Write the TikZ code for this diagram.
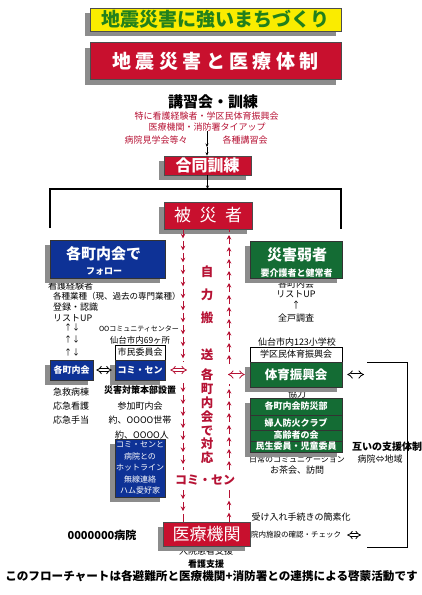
\documentclass[tikz,border=0pt]{standalone}
\usepackage{fontspec}
\setmainfont{Noto Sans CJK JP}
\usetikzlibrary{positioning,arrows.meta,shadows,decorations.markings}
\definecolor{boxred}{RGB}{200,16,46}
\definecolor{boxblue}{RGB}{14,50,150}
\definecolor{boxgreen}{RGB}{20,108,52}
\definecolor{titleyellow}{RGB}{250,236,0}
\definecolor{titlegreen}{RGB}{34,128,28}
\definecolor{textred}{RGB}{182,18,52}
\definecolor{shadowgray}{RGB}{140,140,140}

\begin{document}
\begin{tikzpicture}[x=1pt,y=-1pt,
  every node/.style={inner sep=0pt,font=\fontsize{9}{11}\selectfont},
  boxshadow/.style={drop shadow={shadow xshift=-5pt,shadow yshift=-5pt,fill=shadowgray,opacity=1}},
  redbox/.style={boxshadow,fill=boxred,draw=black!70,line width=0.6pt,text=white},
  bluebox/.style={boxshadow,fill=boxblue,draw=black!80,line width=0.5pt,text=white},
  greenbox/.style={boxshadow,fill=boxgreen,draw=black!80,line width=0.5pt,text=white},
  whitebox/.style={fill=white,draw=black,line width=0.6pt},
  redtxt/.style={text=textred},
  boxtxt/.style={text=white,font=\bfseries\fontsize{9}{11}\selectfont},
  arr/.style={-{Stealth[length=3.5pt,width=3pt]},line width=0.6pt},
  dblarr/.style={double distance=2pt,line width=0.8pt,{Implies}-{Implies}},
  stream/.style={textred,line width=0.8pt,dash pattern=on 8pt off 4pt,
    postaction={decorate,solid},
    decoration={markings,mark=between positions 9pt and 1 step 12pt with {\arrow{Stealth[length=4.5pt,width=4.5pt]}}}},
  frame/.style={line width=1.2pt}]
\useasboundingbox (0,0) rectangle (421,595);

% titles
\node[boxshadow,fill=titleyellow,draw=black!70,line width=0.6pt,minimum width=251pt,minimum height=23pt,
  text=titlegreen,font=\bfseries\fontsize{19}{19}\selectfont] (motto) at (215.5,19.5) {地震災害に強いまちづくり};
\node[redbox,minimum width=251pt,minimum height=37pt,font=\bfseries\fontsize{19}{19}\selectfont] (system) at (215.5,61) {地 震 災 害 と 医 療 体 制};

% lectures and joint training
\node[font=\bfseries\fontsize{15}{15}\selectfont] (lecture) at (213,102) {講習会・訓練};
\node[redtxt] (nurse) at (206.5,116) {特に看護経験者・学区民体育振興会};
\node[redtxt] (tieup) at (207,127) {医療機関・消防署タイアップ};
\node[redtxt] (visit) at (156,140) {病院見学会等々};
\node[redtxt] (course) at (245,140) {各種講習会};
\coordinate (mid) at (207,147);
\node[redbox,minimum width=87pt,minimum height=19pt,font=\bfseries\fontsize{16}{16}\selectfont] (joint) at (207.5,165.5) {合同訓練};
\draw[arr] (tieup) -- (mid);
\draw[arr] (mid) -- (mid |- joint.north);

\coordinate (fr1) at (50,228);
\coordinate (fr2) at (50,189);
\coordinate (fr3) at (341,189);
\coordinate (fr4) at (341,229);
\draw[frame] (fr1) -- (fr2) -- (fr3) -- (fr4);
\draw[arr] (joint.south) -- (joint.south |- fr2);

\node[redbox,minimum width=88pt,minimum height=27pt,font=\fontsize{17}{17}\selectfont] (hisai) at (208,215.5) {被\enspace 災\enspace 者};

% texts partly under the boxes
\node[anchor=west] (nursexp) at (48,286) {看護経験者};
\node (chonair) at (296,284) {各町内会};
\node (kyoryoku) at (297,394) {協力};
\node (daily) [font=\fontsize{8}{10}\selectfont] at (297,459) {日常のコミュニケーション};
\node[anchor=west] (kyubyo) at (53,392) {急救病棟};
\node[font=\bfseries\fontsize{9}{11}\selectfont] (honbu) at (140,390) {災害対策本部設置};
\node (nyuin) at (206,551) {入院患者支援};

% left branch
\node[bluebox,minimum width=115pt,minimum height=38pt] (follow) at (107.5,259) {};
\node[text=white,font=\bfseries\fontsize{15}{15}\selectfont] (followt) at (103.5,254) {各町内会で};
\node[text=white,font=\bfseries\fontsize{9}{9}\selectfont] (followsub) at (104,272) {フォロー};
\node[anchor=west,font=\fontsize{8.5}{10}\selectfont] (gyoshu) at (53,296) {各種業種（現、過去の専門業種）};
\node[anchor=west] (toroku) at (53,307) {登録・認識};
\node[anchor=west] (listupl) at (53,318) {リストUP};
\node[font=\fontsize{8}{8}\selectfont] (ud1) at (72,327) {↑↓};
\node[font=\fontsize{8}{8}\selectfont] (ud2) at (72,339) {↑↓};
\node[font=\fontsize{8}{8}\selectfont] (ud3) at (72,352) {↑↓};
\node[bluebox,minimum width=43pt,minimum height=20pt,boxtxt] (kakucho) at (71.5,370) {各町内会};
\node[anchor=west] (okango) at (53,406) {応急看護};
\node[anchor=west] (oteate) at (53,420) {応急手当};

% community centre
\node[font=\fontsize{7}{8}\selectfont] (center) at (139,329) {OOコミュニティセンター};
\node[font=\fontsize{8.5}{10}\selectfont] (sites) at (140,340) {仙台市内69ヶ所};
\node[whitebox,minimum width=50pt,minimum height=15pt] (iinkai) at (140,352.5) {市民委員会};
\node[bluebox,minimum width=50pt,minimum height=20pt,boxtxt] (komisen) at (140,370) {コミ・セン};
\node (sanka) at (140,406) {参加町内会};
\node (setai) at (140,420) {約、OOOO世帯};
\node (ninzu) at (142,435) {約、OOOO人};
\node[bluebox,minimum width=50pt,minimum height=58pt,text=white,align=center,
  font=\fontsize{8}{11.5}\selectfont] (hotline) at (140,468) {コミ・センと\\病院との\\ホットライン\\無線連絡\\ハム愛好家};

% right branch
\node[greenbox,minimum width=92pt,minimum height=37pt] (weak) at (296,259.5) {};
\node[text=white,font=\bfseries\fontsize{15}{15}\selectfont] (weakt) at (297,255) {災害弱者};
\node[text=white,font=\bfseries\fontsize{9}{9}\selectfont] (weaksub) at (296.5,273) {要介護者と健常者};
\node (listup) at (296,294) {リストUP};
\node (up1) at (296,305) {↑};
\node (zenko) at (296,318) {全戸調査};
\node (school) at (297,342) {仙台市内123小学校};
\node[whitebox,minimum width=92pt,minimum height=15pt] (gakku) at (296,354.5) {学区民体育振興会};
\node[greenbox,minimum width=92pt,minimum height=25pt,text=white,font=\bfseries\fontsize{12.5}{12.5}\selectfont] (taiiku) at (296,374.5) {体育振興会};
\node[greenbox,minimum width=92pt,minimum height=17pt,boxtxt] (bosai) at (296,406.5) {各町内会防災部};
\node[greenbox,minimum width=92pt,minimum height=15pt,boxtxt] (fujin) at (296,422.5) {婦人防火クラブ};
\node[greenbox,minimum width=92pt,minimum height=11pt,boxtxt] (korei) at (296,435.5) {高齢者の会};
\node[greenbox,minimum width=92pt,minimum height=11pt,boxtxt] (minsei) at (296,446.5) {民生委員・児童委員};
\node (ocha) at (297,470) {お茶会、訪問};
\node[font=\bfseries\fontsize{10}{10}\selectfont] (mutual) at (387,447) {互いの支援体制};
\node (byochi) at (380,459) {病院⇔地域};
\node (kanso) at (301,517) {受け入れ手続きの簡素化};

% self transport column
\node[redtxt,align=center,font=\bfseries\fontsize{12.5}{23}\selectfont] (jiriki) at (207,295) {自\\力\\搬};
\node[redtxt,font=\bfseries\fontsize{12.5}{12.5}\selectfont] (sou) at (207,355) {送};
\node[redtxt,align=center,font=\bfseries\fontsize{12.5}{13.8}\selectfont] (taiou) at (207,416.5) {各\\町\\内\\会\\で\\対\\応};
\node[redtxt,font=\bfseries\fontsize{12}{12}\selectfont] (komisenred) at (205,480) {コミ・セン};

% medical
\node[font=\bfseries\fontsize{11}{11}\selectfont] (hospital) at (102,535) {0000000病院};
\node[redbox,minimum width=87pt,minimum height=24pt,font=\fontsize{17}{17}\selectfont] (iryo) at (206.5,534) {医療機関};
\node[font=\fontsize{7.5}{8}\selectfont] (check) at (296,535) {院内施設の確認・チェック};
\node[font=\bfseries\fontsize{9}{11}\selectfont] (kango) at (206,564) {看護支援};
\node[font=\bfseries\fontsize{11.6}{12}\selectfont] (footer) at (211.5,576) {このフローチャートは各避難所と医療機関+消防署との連携による啓蒙活動です};

% red streams
\coordinate (lcol) at (183,0);
\coordinate (rcol) at (229,0);
\coordinate (lg1) at (183,362);
\coordinate (lg2) at (183,383);
\coordinate (lg3) at (183,470);
\coordinate (lg4) at (183,490);
\coordinate (rg1) at (229,490);
\coordinate (rg2) at (229,470);
\coordinate (rg3) at (229,384);
\coordinate (rg4) at (229,364);
\draw[stream] (hisai.south -| lcol) -- (lg1);
\draw[stream] (lg2) -- (lg3);
\draw[stream] (lg4) -- (iryo.north -| lcol);
\draw[stream] (iryo.north -| rcol) -- (rg1);
\draw[stream] (rg2) -- (rg3);
\draw[stream] (rg4) -- (hisai.south -| rcol);

% double arrows
\coordinate (lred) at (187,370);
\coordinate (rred) at (228,374.5);
\coordinate (bra) at (364,374.5);
\coordinate (brb) at (361,535);
\draw[dblarr,shorten <=3pt,shorten >=3pt] (kakucho) -- (komisen);
\draw[dblarr,textred,shorten <=5pt] (komisen) -- (lred);
\draw[dblarr,textred,shorten <=5pt] (taiiku) -- (rred);
\draw[dblarr,shorten <=5pt] (taiiku) -- (bra);
\draw[dblarr,shorten <=6pt] (check) -- (brb);

% bracket on the right
\coordinate (b1) at (367,362);
\coordinate (b2) at (407,362);
\coordinate (b3) at (407,547);
\coordinate (b4) at (367,547);
\draw[line width=1pt] (b1) -- (b2) -- (b3) -- (b4);
\end{tikzpicture}
\end{document}
